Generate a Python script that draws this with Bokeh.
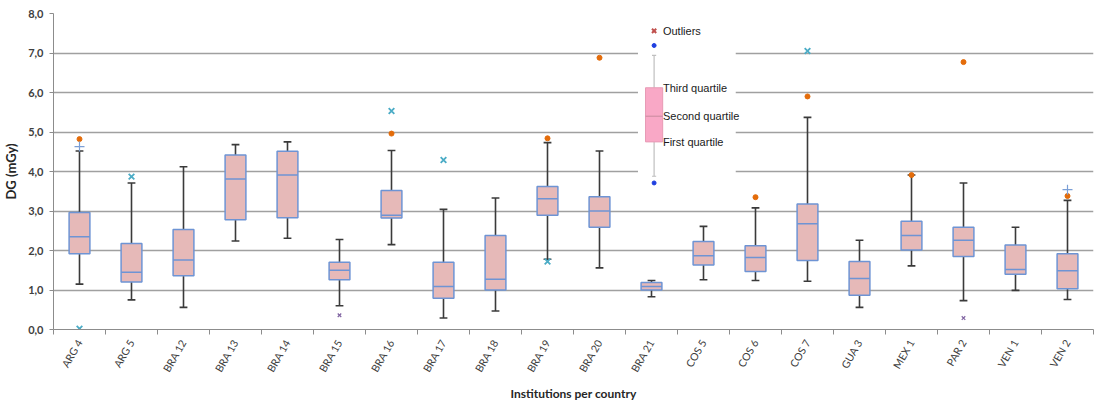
import numpy as np
from bokeh.plotting import figure
from bokeh.models import FixedTicker, Label
from bokeh.embed import file_html
from bokeh.resources import INLINE

categories = ["ARG 4", "ARG 5", "BRA 12", "BRA 13", "BRA 14", "BRA 15", "BRA 16", "BRA 17",
              "BRA 18", "BRA 19", "BRA 20", "BRA 21", "COS 5", "COS 6", "COS 7", "GUA 3",
              "MEX 1", "PAR 2", "VEN 1", "VEN 2"]
whisker_low = [1.15, 0.75, 0.56, 2.24, 2.31, 0.60, 2.15, 0.29, 0.47, 1.78, 1.56, 0.83, 1.26, 1.24, 1.22, 0.56, 1.61, 0.73, 0.99, 0.76]
q1 =          [1.92, 1.20, 1.36, 2.78, 2.83, 1.26, 2.82, 0.79, 1.00, 2.89, 2.59, 1.00, 1.63, 1.47, 1.75, 0.87, 2.01, 1.85, 1.40, 1.03]
median =      [2.35, 1.45, 1.76, 3.81, 3.91, 1.50, 2.89, 1.09, 1.27, 3.31, 3.00, 1.09, 1.87, 1.82, 2.68, 1.29, 2.38, 2.26, 1.52, 1.49]
q3 =          [2.96, 2.18, 2.53, 4.42, 4.51, 1.70, 3.52, 1.70, 2.38, 3.62, 3.36, 1.19, 2.23, 2.12, 3.18, 1.72, 2.74, 2.59, 2.14, 1.92]
whisker_high = [4.52, 3.71, 4.12, 4.68, 4.75, 2.28, 4.53, 3.04, 3.33, 4.73, 4.52, 1.24, 2.61, 3.08, 5.37, 2.26, 3.91, 3.71, 2.59, 3.27]

dot_cats = ["ARG 4", "BRA 16", "BRA 19", "BRA 20", "COS 6", "COS 7", "MEX 1", "PAR 2", "VEN 2"]
dot_vals = [4.82, 4.96, 4.84, 6.88, 3.35, 5.90, 3.91, 6.77, 3.38]
star_cats = ["ARG 4", "ARG 5", "BRA 16", "BRA 17", "BRA 19", "COS 7"]
star_vals = [0.02, 3.87, 5.53, 4.29, 1.72, 7.05]
plus_cats = ["ARG 4", "VEN 2"]
plus_vals = [4.63, 3.54]
smallx_cats = ["BRA 15", "PAR 2"]
smallx_vals = [0.36, 0.29]

y_ticks = [0, 1, 2, 3, 4, 5, 6, 7, 8]
y_tick_labels = ["0,0", "1,0", "2,0", "3,0", "4,0", "5,0", "6,0", "7,0", "8,0"]

legend_texts = ["Outliers", "Third quartile", "Second quartile", "First quartile"]

FONT = "Lato"
pos = {c: i for i, c in enumerate(categories)}
x = np.arange(len(categories), dtype=float)

p = figure(width=1097, height=404, x_range=(-0.5, len(categories) - 0.5), y_range=(0, 8),
           output_backend="svg", toolbar_location=None,
           min_border_left=52, min_border_right=4, min_border_top=13, min_border_bottom=69)
p.outline_line_color = None
p.background_fill_color = "white"

# grid
p.xgrid.grid_line_color = None
p.ygrid.grid_line_color = "#A0A0A0"
p.ygrid.grid_line_width = 1.5

# axes
p.yaxis.ticker = FixedTicker(ticks=y_ticks)
p.yaxis.major_label_overrides = {t: l for t, l in zip(y_ticks, y_tick_labels)}
p.yaxis.minor_tick_line_color = None
p.yaxis.major_tick_in = 0
p.yaxis.major_tick_out = 4
p.yaxis.axis_line_color = "#8C8C8C"
p.yaxis.major_tick_line_color = "#8C8C8C"
p.yaxis.major_label_text_font = FONT
p.yaxis.major_label_text_font_style = "bold"
p.yaxis.major_label_text_font_size = "11px"
p.yaxis.major_label_text_color = "#404040"
p.yaxis.major_label_standoff = 6
p.yaxis.axis_label = "DG (mGy)"
p.yaxis.axis_label_text_font = FONT
p.yaxis.axis_label_text_font_style = "bold"
p.yaxis.axis_label_text_font_size = "13px"
p.yaxis.axis_label_text_color = "#262626"
p.yaxis.axis_label_standoff = 6

p.xaxis.ticker = FixedTicker(ticks=list(x), minor_ticks=list(np.arange(len(categories) + 1) - 0.5))
p.xaxis.major_label_overrides = {i: c for i, c in enumerate(categories)}
p.xaxis.major_tick_line_color = None
p.xaxis.minor_tick_in = 0
p.xaxis.minor_tick_out = 5
p.xaxis.minor_tick_line_color = "#8C8C8C"
p.xaxis.axis_line_color = "#8C8C8C"
p.xaxis.major_label_orientation = np.pi / 3
p.xaxis.major_label_text_font = FONT
p.xaxis.major_label_text_font_size = "10.5px"
p.xaxis.major_label_text_color = "#404040"
p.xaxis.axis_label = "Institutions per country"
p.xaxis.axis_label_text_font = FONT
p.xaxis.axis_label_text_font_style = "bold"
p.xaxis.axis_label_text_font_size = "12px"
p.xaxis.axis_label_text_color = "#262626"
p.xaxis.axis_label_standoff = 6

# legend background
p.quad(left=[10.74], right=[12.62], bottom=[3.48], top=[7.9], fill_color="white", line_color=None)

# whiskers
p.segment(x0=x, x1=x, y0=q3, y1=whisker_high, line_color="#3A3A3A", line_width=1.6)
p.segment(x0=x, x1=x, y0=whisker_low, y1=q1, line_color="#3A3A3A", line_width=1.6)
cap = 0.075
p.segment(x0=x - cap, x1=x + cap, y0=whisker_high, y1=whisker_high, line_color="#3A3A3A", line_width=1.6)
p.segment(x0=x - cap, x1=x + cap, y0=whisker_low, y1=whisker_low, line_color="#3A3A3A", line_width=1.6)

# boxes
bw = 0.4
p.vbar(x=x, width=bw, bottom=q1, top=q3, fill_color="#E6B9B8", line_color="#6E94D4", line_width=1.5)
p.segment(x0=x - bw / 2, x1=x + bw / 2, y0=median, y1=median, line_color="#6E94D4", line_width=1.5)

# outliers
p.scatter([pos[c] for c in dot_cats], dot_vals, marker="circle", size=5, fill_color="#E46C0A", line_color="#E46C0A")
p.scatter([pos[c] for c in star_cats], star_vals, marker="x", size=8, line_color="#4BACC6", line_width=1.8)
p.scatter([pos[c] for c in plus_cats], plus_vals, marker="cross", size=10, line_color="#7B9FD6", line_width=1.2)
p.scatter([pos[c] for c in smallx_cats], smallx_vals, marker="x", size=5, line_color="#8064A2", line_width=1.2)

# legend drawing
lx = 11.05
p.scatter([lx], [7.56], marker="x", size=6, line_color="#C0504D", line_width=2)
p.scatter([lx, lx], [7.19, 3.71], marker="circle", size=4, fill_color="#1F3FE0", line_color="#1F3FE0")
p.segment(x0=[lx, lx], x1=[lx, lx], y0=[6.12, 3.88], y1=[6.94, 4.75], line_color="#BFBFBF", line_width=1.2)
p.segment(x0=[lx - 0.04, lx - 0.04], x1=[lx + 0.04, lx + 0.04], y0=[6.94, 3.88], y1=[6.94, 3.88], line_color="#BFBFBF", line_width=1.2)
p.quad(left=[lx - 0.165], right=[lx + 0.165], bottom=[4.75], top=[6.12], fill_color="#F9A8C6", line_color="#E79AB5", line_width=1)
p.segment(x0=[lx - 0.165], x1=[lx + 0.165], y0=[5.40], y1=[5.40], line_color="#C98A9E", line_width=1)
tx = 11.22
for t, yv in zip(legend_texts, [7.56, 6.12, 5.40, 4.75]):
    p.add_layout(Label(x=tx, y=yv, text=t, text_font="Liberation Sans", text_font_size="11px",
                       text_color="#1A1A1A", text_baseline="middle", text_align="left"))

open("out.html", "w").write(file_html(p, INLINE))
